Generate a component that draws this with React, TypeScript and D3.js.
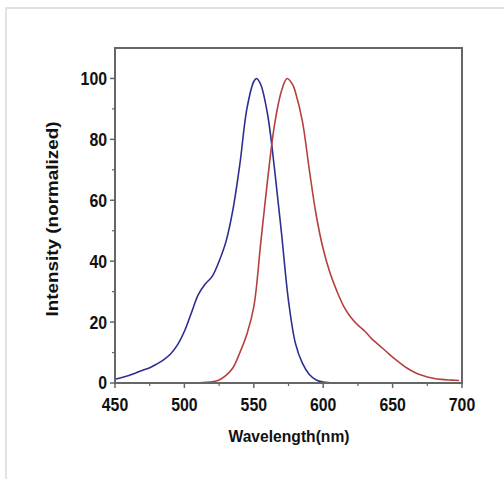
import React from 'react';
import * as d3 from 'd3';

// excitation (blue) and emission (red) spectra
const blueWl = [450, 455, 460, 465, 470, 475, 480, 485, 490, 495, 500, 505, 510, 515, 520, 525, 530, 535, 540, 545, 550, 552, 555, 560, 565, 570, 575, 580, 585, 590, 595, 600, 605, 608];
const blueVal = [1.2, 1.8, 2.5, 3.3, 4.2, 5, 6.2, 7.6, 9.5, 12.5, 17, 23, 29, 32.5, 35, 40, 46.5, 57, 72, 90, 99, 100, 98, 88, 70, 49, 27, 13, 6.5, 2.8, 1, 0.3, 0.1, 0];

const redWl = [511, 515, 520, 525, 530, 535, 540, 545, 550, 555, 560, 565, 570, 574, 578, 580, 585, 590, 595, 600, 605, 610, 615, 620, 625, 630, 635, 640, 645, 650, 655, 660, 665, 670, 675, 680, 685, 690, 695, 698];
const redVal = [0.1, 0.2, 0.4, 1, 2.5, 5, 10, 16, 25, 46, 67, 85, 96, 100, 98, 95.5, 86, 70, 55, 44, 36, 30, 25, 21.5, 19, 17, 14.5, 12.5, 10.5, 8.5, 6.7, 5, 3.7, 2.7, 2, 1.5, 1.2, 1, 0.9, 0.8];

const xMajor = [450, 500, 550, 600, 650, 700];
const xMinor = [475, 525, 575, 625, 675];
const yMajor = [0, 20, 40, 60, 80, 100];
const yMinor = [10, 30, 50, 70, 90];

const W = 504;
const H = 479;
const m = { left: 115, right: 462, top: 48, bottom: 383 };

const App: React.FC = () => {
  const x = d3.scaleLinear().domain([450, 700]).range([m.left, m.right]);
  const y = d3.scaleLinear().domain([0, 110]).range([m.bottom, m.top]);

  const line = d3.line<[number, number]>()
    .x(d => x(d[0]))
    .y(d => y(d[1]))
    .curve(d3.curveCatmullRom);

  const blue = blueWl.map((w, i) => [w, blueVal[i]] as [number, number]);
  const red = redWl.map((w, i) => [w, redVal[i]] as [number, number]);

  const font = 'Arial, "Liberation Sans", sans-serif';
  const axisColor = '#666';

  return (
    <svg width={W} height={H} style={{ position: 'absolute', left: 0, top: 0, background: '#fff' }}>
      {/* page border */}
      <line x1={6} x2={W} y1={8} y2={8} stroke="#e2e2e2" strokeWidth={2} />
      <line x1={6} x2={6} y1={7} y2={H} stroke="#e2e2e2" strokeWidth={2} />

      <path d={line(blue) || ''} fill="none" stroke="#2d2f8f" strokeWidth={1.6} />
      <path d={line(red) || ''} fill="none" stroke="#b5413f" strokeWidth={1.6} />

      <rect x={m.left} y={m.top} width={m.right - m.left} height={m.bottom - m.top}
        fill="none" stroke={axisColor} strokeWidth={2} />

      {xMajor.map(t => (
        <g key={'xm' + t}>
          <line x1={x(t)} x2={x(t)} y1={m.bottom} y2={m.bottom + 5} stroke={axisColor} strokeWidth={1.5} />
          <text transform={`translate(${x(t)},${m.bottom + 28}) scale(0.88,1)`} textAnchor="middle"
            fontFamily={font} fontWeight="bold" fontSize={18} fill="#111">{t}</text>
        </g>
      ))}
      {xMinor.map(t => (
        <line key={'xn' + t} x1={x(t)} x2={x(t)} y1={m.bottom} y2={m.bottom + 3} stroke={axisColor} strokeWidth={1.2} />
      ))}
      {yMajor.map(t => (
        <g key={'ym' + t}>
          <line x1={m.left - 5} x2={m.left} y1={y(t)} y2={y(t)} stroke={axisColor} strokeWidth={1.5} />
          <text transform={`translate(${m.left - 8},${y(t)}) scale(0.88,1)`} dy="0.36em" textAnchor="end"
            fontFamily={font} fontWeight="bold" fontSize={18} fill="#111">{t}</text>
        </g>
      ))}
      {yMinor.map(t => (
        <line key={'yn' + t} x1={m.left - 3} x2={m.left} y1={y(t)} y2={y(t)} stroke={axisColor} strokeWidth={1.2} />
      ))}

      <text x={289} y={442} textAnchor="middle" fontFamily={font} fontWeight="bold" fontSize={17} fill="#111"
        textLength={121} lengthAdjust="spacingAndGlyphs">Wavelength(nm)</text>
      <text transform="translate(58,219) rotate(-90)" textAnchor="middle" fontFamily={font} fontWeight="bold" fontSize={17} fill="#111"
        textLength={195} lengthAdjust="spacingAndGlyphs">Intensity (normalized)</text>
    </svg>
  );
};

export default App;
